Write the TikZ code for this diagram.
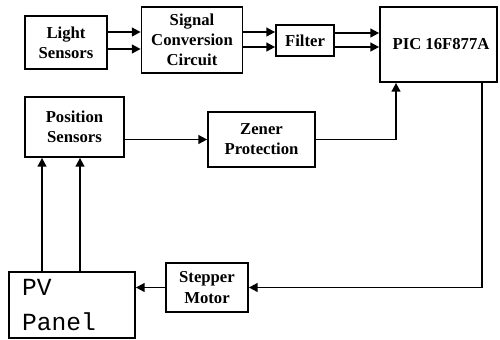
\documentclass[tikz,border=0pt]{standalone}
\usepackage{fontspec}
\setmainfont{Liberation Serif}
\setmonofont{Liberation Mono}
\usetikzlibrary{arrows.meta}
\tikzset{
  blk/.style={draw, line width=1pt, inner sep=0pt, align=center,
    font=\bfseries\fontsize{9.5}{11.5}\selectfont},
  sig/.style={line width=1pt, -{Triangle[length=5pt,width=5pt]}}
}
\begin{document}
\begin{tikzpicture}[x=0.02cm, y=-0.02cm]
  \useasboundingbox (0,0) rectangle (500,339);
  % top row
  \node[blk, minimum width=1.64cm, minimum height=1.06cm] (light) at (66,42.5) {Light\\Sensors};
  \node[blk, minimum width=2.02cm, minimum height=1.32cm] (signal) at (192,40) {Signal\\Conversion\\Circuit};
  \node[blk, minimum width=1.16cm, minimum height=0.62cm] (filter) at (305,40.5) {Filter};
  \node[blk, minimum width=2.34cm, minimum height=1.5cm] (pic) at (438.5,44.5) {\hspace{0.1cm}PIC 16F877A};
  % middle row
  \node[blk, minimum width=1.98cm, minimum height=1.2cm] (pos) at (74.5,127) {Position\\Sensors};
  \node[blk, minimum width=2.14cm, minimum height=1.1cm] (zener) at (261.5,139.5) {Zener\\Protection};
  % bottom row
  \node[blk, minimum width=1.64cm, minimum height=0.98cm] (stepper) at (207,287.5) {Stepper\\Motor};
  \node[draw, line width=1pt, minimum width=2.52cm, minimum height=1.32cm,
    inner xsep=0.26cm, text width=2cm, align=left,
    font=\ttfamily\fontsize{14}{19.5}\selectfont] (pv) at (72,305) {PV\\Panel};

  \draw[sig] ([yshift=0.21cm]light.east) coordinate (a1) -- (a1 -| signal.west);
  \draw[sig] ([yshift=-0.13cm]light.east) coordinate (a2) -- (a2 -| signal.west);
  \draw[sig] ([yshift=0.16cm]signal.east) coordinate (b1) -- (b1 -| filter.west);
  \draw[sig] ([yshift=-0.14cm]signal.east) coordinate (b2) -- (b2 -| filter.west);
  \draw[sig] ([yshift=0.15cm]filter.east) coordinate (c1) -- (c1 -| pic.west);
  \draw[sig] ([yshift=-0.13cm]filter.east) coordinate (c2) -- (c2 -| pic.west);
  \draw[sig] (pos.east |- zener.west) -- (zener.west);
  \draw[sig] (zener.east) -| ([xshift=-0.85cm]pic.south);
  \draw[sig] ([xshift=0.87cm]pic.south) |- (stepper.east);
  \draw[sig] (stepper.west) -- (stepper.west -| pv.east);
  \draw[sig] ([xshift=-0.6cm]pv.north) coordinate (d1) -- (d1 |- pos.south);
  \draw[sig] ([xshift=0.16cm]pv.north) coordinate (d2) -- (d2 |- pos.south);
\end{tikzpicture}
\end{document}
